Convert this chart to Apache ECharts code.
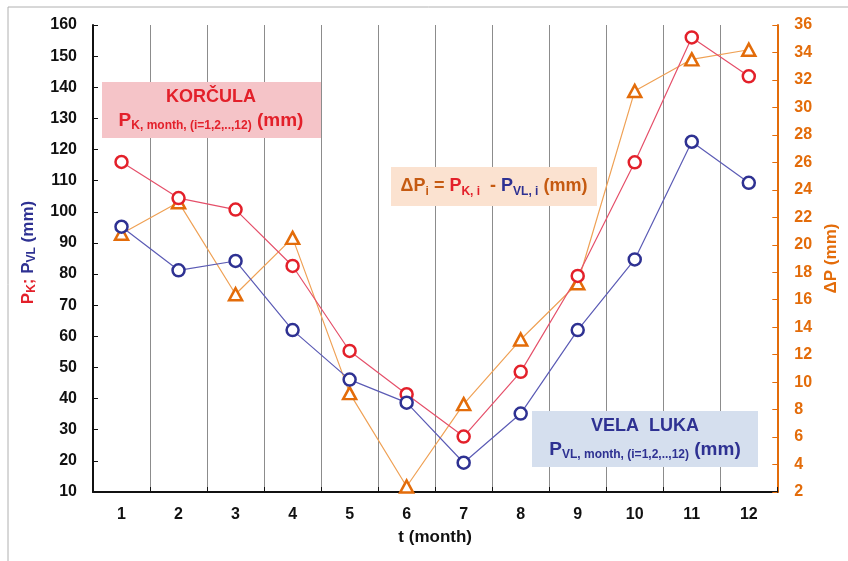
<!DOCTYPE html>
<html>
<head>
<meta charset="utf-8">
<script src="https://cdn.jsdelivr.net/npm/echarts@6/dist/echarts.min.js"></script>
<style>
  html, body { margin: 0; padding: 0; background: #fff; }
  #main { width: 848px; height: 561px; }
</style>
</head>
<body>
<div id="main"></div>
<script>
// months on the x axis
const months = ['1', '2', '3', '4', '5', '6', '7', '8', '9', '10', '11', '12'];
// monthly precipitation, Korcula (mm)
const pKorcula = [116.0, 104.4, 100.7, 82.6, 55.3, 41.4, 27.8, 48.6, 79.4, 115.9, 156.0, 143.5];
// monthly precipitation, Vela Luka (mm)
const pVelaLuka = [95.2, 81.2, 84.2, 62.0, 46.1, 38.7, 19.4, 35.2, 62.0, 84.7, 122.5, 109.3];
// difference dP = PK - PVL (mm), right axis
const deltaP = [20.8, 23.1, 16.4, 20.5, 9.2, 2.4, 8.4, 13.1, 17.2, 31.2, 33.5, 34.2];

const FONT = "'Liberation Sans', Arial, sans-serif";
const RED = '#E3202A';
const BLUE = '#2E3192';
const ORANGE = '#E36C0A';
const BROWN = '#C55A11';

const chart = echarts.init(document.getElementById('main'));

const sub = (color) => ({ color: color, fontSize: 12, fontWeight: 'bold', fontFamily: FONT, verticalAlign: 'bottom', lineHeight: 20 });
const big = (color) => ({ color: color, fontSize: 17, fontWeight: 'bold', fontFamily: FONT, lineHeight: 20 });

const gSub = (c) => ({ fill: c, fontSize: 12, fontWeight: 'bold', fontFamily: FONT, verticalAlign: 'bottom', lineHeight: 23 });
const gBig = (c, s) => ({ fill: c, fontSize: s || 19, fontWeight: 'bold', fontFamily: FONT, lineHeight: 23 });

const option = {
  backgroundColor: '#fff',
  animation: false,
  grid: { left: 93, right: 67, top: 25, bottom: 69 },
  xAxis: {
    type: 'category',
    data: months,
    boundaryGap: true,
    name: 't (month)',
    nameLocation: 'middle',
    nameGap: 37,
    nameTextStyle: { color: '#111', fontSize: 17, fontWeight: 'bold', fontFamily: FONT },
    axisLine: { lineStyle: { color: '#111', width: 2 } },
    axisTick: { show: true, inside: true, length: 5, lineStyle: { color: '#111', width: 1 } },
    axisLabel: { color: '#111', fontSize: 16, fontWeight: 'bold', fontFamily: FONT, margin: 15 },
    splitLine: { show: true, lineStyle: { color: '#8c8c8c', width: 1 } }
  },
  yAxis: [
    {
      type: 'value',
      min: 10, max: 160, interval: 10,
      name: '{r|P}{rs|K}{r|; }{b|P}{bs|VL}{b| (mm)}',
      nameLocation: 'middle',
      nameGap: 55,
      nameRotate: 90,
      nameTextStyle: {
        rich: { r: big(RED), rs: sub(RED), b: big(BLUE), bs: sub(BLUE) },
        padding: [0, 0, 0, 12]
      },
      axisLine: { show: true, lineStyle: { color: '#111', width: 2 } },
      axisTick: { show: true, inside: true, length: 5, lineStyle: { color: '#111', width: 1 } },
      axisLabel: { color: '#111', fontSize: 16, fontWeight: 'bold', fontFamily: FONT, margin: 16 },
      splitLine: { show: false }
    },
    {
      type: 'value',
      position: 'right',
      min: 2, max: 36, interval: 2,
      name: 'ΔP (mm)',
      nameLocation: 'middle',
      nameGap: 42,
      nameRotate: 90,
      nameTextStyle: { color: ORANGE, fontSize: 17, fontWeight: 'bold', fontFamily: FONT },
      axisLine: { show: true, lineStyle: { color: ORANGE, width: 2 } },
      axisTick: { show: true, inside: true, length: 5, lineStyle: { color: ORANGE, width: 1 } },
      axisLabel: { color: ORANGE, fontSize: 16, fontWeight: 'bold', fontFamily: FONT, margin: 17 },
      splitLine: { show: false }
    }
  ],
  series: [
    {
      name: 'dP', type: 'line', yAxisIndex: 1, data: deltaP,
      symbol: 'triangle', symbolSize: [13, 12],
      lineStyle: { color: '#EFA155', width: 1.2 },
      itemStyle: { color: '#fff', borderColor: ORANGE, borderWidth: 2.5 }
    },
    {
      name: 'PK', type: 'line', yAxisIndex: 0, data: pKorcula,
      symbol: 'circle', symbolSize: 12,
      lineStyle: { color: '#E5506A', width: 1.2 },
      itemStyle: { color: '#fff', borderColor: RED, borderWidth: 2.5 }
    },
    {
      name: 'PVL', type: 'line', yAxisIndex: 0, data: pVelaLuka,
      symbol: 'circle', symbolSize: 12,
      lineStyle: { color: '#5B5BB5', width: 1.2 },
      itemStyle: { color: '#fff', borderColor: BLUE, borderWidth: 2.5 }
    }
  ],
  graphic: [
    // outer frame
    { type: 'rect', shape: { x: 8, y: 7, width: 900, height: 600 }, style: { fill: 'none', stroke: '#b0b0b0', lineWidth: 1 }, z: 0 },
    // Korcula box
    { type: 'rect', shape: { x: 102, y: 82, width: 219, height: 56 }, style: { fill: '#F5C4C8' }, z: 10 },
    {
      type: 'text', z: 11,
      style: {
        x: 211, y: 109, align: 'center', verticalAlign: 'middle',
        text: '{t|KORČULA}\n{p|P}{s|K, month, (i=1,2,..,12)}{p| (mm)}',
        rich: { t: gBig(RED, 18), p: gBig(RED), s: gSub(RED) }
      }
    },
    // dP box
    { type: 'rect', shape: { x: 391, y: 167, width: 206, height: 39 }, style: { fill: '#FBE2D0' }, z: 10 },
    {
      type: 'text', z: 11,
      style: {
        x: 494, y: 186, align: 'center', verticalAlign: 'middle',
        text: '{o|ΔP}{os|i}{o| = }{r|P}{rs|K, i}{o|  - }{b|P}{bs|VL, i}{o| (mm)}',
        rich: {
          o: gBig(BROWN, 18), os: gSub(BROWN),
          r: gBig(RED, 18), rs: gSub(RED),
          b: gBig(BLUE, 18), bs: gSub(BLUE)
        }
      }
    },
    // Vela Luka box
    { type: 'rect', shape: { x: 532, y: 411, width: 226, height: 56 }, style: { fill: '#D5DFEE' }, z: 10 },
    {
      type: 'text', z: 11,
      style: {
        x: 645, y: 438, align: 'center', verticalAlign: 'middle',
        text: '{t|VELA  LUKA}\n{p|P}{s|VL, month, (i=1,2,..,12)}{p| (mm)}',
        rich: { t: gBig(BLUE, 18), p: gBig(BLUE), s: gSub(BLUE) }
      }
    }
  ]
};

chart.setOption(option);
</script>
</body>
</html>
